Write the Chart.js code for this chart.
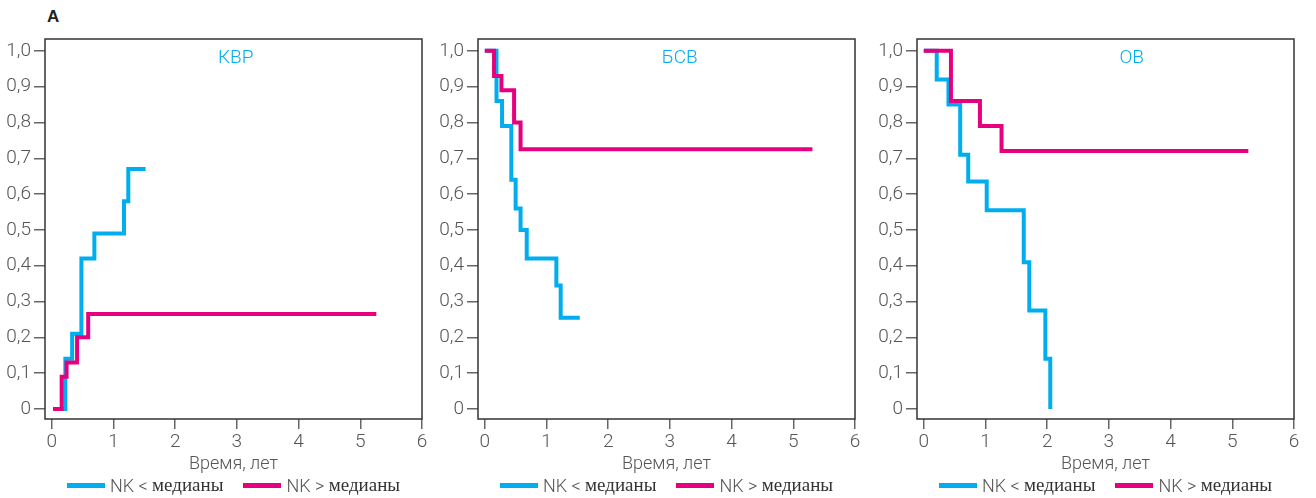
<!DOCTYPE html>
<html>
<head>
<meta charset="utf-8">
<script src="https://cdn.jsdelivr.net/npm/chart.js@4.4.1/dist/chart.umd.min.js"></script>
<style>
  html, body { margin: 0; padding: 0; background: #fff; }
  body { width: 1316px; height: 498px; position: relative; overflow: hidden; font-family: Roboto, sans-serif; }
  .tag { position: absolute; left: 47px; top: 7px; font: bold 17px "Liberation Sans", Arial, sans-serif; color: #222; }
  .panel { position: absolute; top: 0; width: 430px; height: 498px; }
  .panel canvas { position: absolute; left: 0; top: 0; }
  .legend { position: absolute; top: 474px; left: 45px; width: 377px; display: flex; justify-content: center; gap: 20px; white-space: nowrap; }
  .item { display: flex; align-items: center; font-size: 18px; font-weight: 300; color: #555; }
  .swatch { width: 38px; height: 5px; margin-right: 5px; }
  .ru { font-family: "Liberation Serif", serif; font-weight: normal; font-size: 19px; color: #333; }
</style>
</head>
<body>
<div class="tag">A</div>

<script>
// ── Data ────────────────────────────────────────────
const xTicks = [0, 1, 2, 3, 4, 5, 6];
const yTicks = [0, 0.1, 0.2, 0.3, 0.4, 0.5, 0.6, 0.7, 0.8, 0.9, 1.0];
const seriesNames = ['NK < медианы', 'NK > медианы'];
const panelTitles = ['КВР', 'БСВ', 'ОВ'];

// КВР (кумулятивная вероятность рецидива)
const kvrLowX  = [0.02, 0.22, 0.33, 0.48, 0.69, 1.17, 1.24, 1.52];
const kvrLowY  = [0,    0.14, 0.21, 0.42, 0.49, 0.58, 0.67, 0.67];
const kvrHighX = [0.02, 0.16, 0.24, 0.41, 0.59, 5.26];
const kvrHighY = [0,    0.09, 0.13, 0.20, 0.265, 0.265];

// БСВ
const bsvLowX  = [0, 0.19, 0.28, 0.43, 0.50, 0.58, 0.68, 1.16, 1.23, 1.54];
const bsvLowY  = [1, 0.86, 0.79, 0.64, 0.56, 0.50, 0.42, 0.345, 0.255, 0.255];
const bsvHighX = [0, 0.15, 0.27, 0.475, 0.58, 5.31];
const bsvHighY = [1, 0.93, 0.89, 0.80, 0.725, 0.725];

// ОВ
const ovLowX  = [0, 0.21, 0.40, 0.59, 0.72, 1.02, 1.62, 1.71, 1.97, 2.05];
const ovLowY  = [1, 0.92, 0.85, 0.71, 0.635, 0.555, 0.41, 0.275, 0.14, 0];
const ovHighX = [0, 0.44, 0.91, 1.26, 5.26];
const ovHighY = [1, 0.86, 0.79, 0.72, 0.72];

// ── Style ───────────────────────────────────────────
const BLUE = '#00aeef';
const PINK = '#e6007e';
const TEXT = '#555';
const FONT = 'Roboto';

const toPoints = (xs, ys) => xs.map((x, i) => ({ x: x, y: ys[i] }));

const panels = [
    { left: 0,   title: panelTitles[0], titleX: 2.98, low: toPoints(kvrLowX, kvrLowY), high: toPoints(kvrHighX, kvrHighY) },
    { left: 433, title: panelTitles[1], titleX: 3.16, low: toPoints(bsvLowX, bsvLowY), high: toPoints(bsvHighX, bsvHighY) },
    { left: 872, title: panelTitles[2], titleX: 3.37, low: toPoints(ovLowX, ovLowY),   high: toPoints(ovHighX, ovHighY) }
];

// ── Plugins ─────────────────────────────────────────
const boxPlugin = {
    id: 'box',
    afterDraw(chart) {
        const a = chart.chartArea, c = chart.ctx;
        c.save();
        c.strokeStyle = '#333';
        c.lineWidth = 1.5;
        c.strokeRect(a.left, a.top, a.right - a.left, a.bottom - a.top);
        c.restore();
    }
};

const innerTitle = {
    id: 'innerTitle',
    afterDatasetsDraw(chart, args, opts) {
        const c = chart.ctx;
        c.save();
        c.font = '300 19px ' + FONT;
        c.fillStyle = BLUE;
        c.textAlign = 'center';
        c.textBaseline = 'middle';
        c.fillText(opts.text, chart.scales.x.getPixelForValue(opts.x), chart.scales.y.getPixelForValue(0.98));
        c.restore();
    }
};

// ── Build panels ────────────────────────────────────
panels.forEach(p => {
    const wrap = document.createElement('div');
    wrap.className = 'panel';
    wrap.style.left = p.left + 'px';
    const canvas = document.createElement('canvas');
    canvas.width = 430;
    canvas.height = 475;
    canvas.style.width = '430px';
    canvas.style.height = '475px';
    wrap.appendChild(canvas);

    const legend = document.createElement('div');
    legend.className = 'legend';
    [BLUE, PINK].forEach((col, i) => {
        const parts = seriesNames[i].split(' ');
        legend.insertAdjacentHTML('beforeend',
            `<div class="item"><span class="swatch" style="background:${col}"></span>` +
            `<span>${parts[0]} ${parts[1]}&nbsp;</span><span class="ru">${parts[2]}</span></div>`);
    });
    wrap.appendChild(legend);
    document.body.appendChild(wrap);

    new Chart(canvas, {
        type: 'line',
        data: {
            datasets: [
                { label: seriesNames[0], data: p.low, borderColor: BLUE, borderWidth: 4, stepped: 'before', pointRadius: 0, fill: false, order: 1 },
                { label: seriesNames[1], data: p.high, borderColor: PINK, borderWidth: 4, stepped: 'before', pointRadius: 0, fill: false, order: 0 }
            ]
        },
        options: {
            responsive: false,
            animation: false,
            layout: { padding: { top: 39, right: 8, left: 0, bottom: 0 } },
            plugins: {
                legend: { display: false },
                tooltip: { enabled: false },
                innerTitle: { text: p.title, x: p.titleX }
            },
            scales: {
                x: {
                    type: 'linear',
                    min: -0.11,
                    max: 6,
                    afterBuildTicks: s => { s.ticks = xTicks.map(v => ({ value: v })); },
                    afterFit: s => { s.height = 56; },
                    border: { display: false },
                    grid: { drawOnChartArea: false, drawTicks: true, tickLength: 10, color: '#666', lineWidth: 1.5 },
                    ticks: { color: TEXT, font: { family: FONT, size: 19, weight: '300' }, padding: 2, maxRotation: 0 },
                    title: { display: true, text: 'Время, лет', color: TEXT, font: { family: FONT, size: 18, weight: '300' }, padding: { top: 0, bottom: 0 } }
                },
                y: {
                    min: -0.028,
                    max: 1.033,
                    afterBuildTicks: s => { s.ticks = yTicks.map(v => ({ value: v })); },
                    afterFit: s => { s.width = 45; },
                    border: { display: false },
                    grid: { drawOnChartArea: false, drawTicks: true, tickLength: 11, color: '#666', lineWidth: 1.5 },
                    ticks: {
                        color: TEXT,
                        font: { family: FONT, size: 19, weight: '300' },
                        padding: 3,
                        callback: v => v === 0 ? '0' : v.toFixed(1).replace('.', ',')
                    }
                }
            }
        },
        plugins: [boxPlugin, innerTitle]
    });
});
</script>
</body>
</html>
